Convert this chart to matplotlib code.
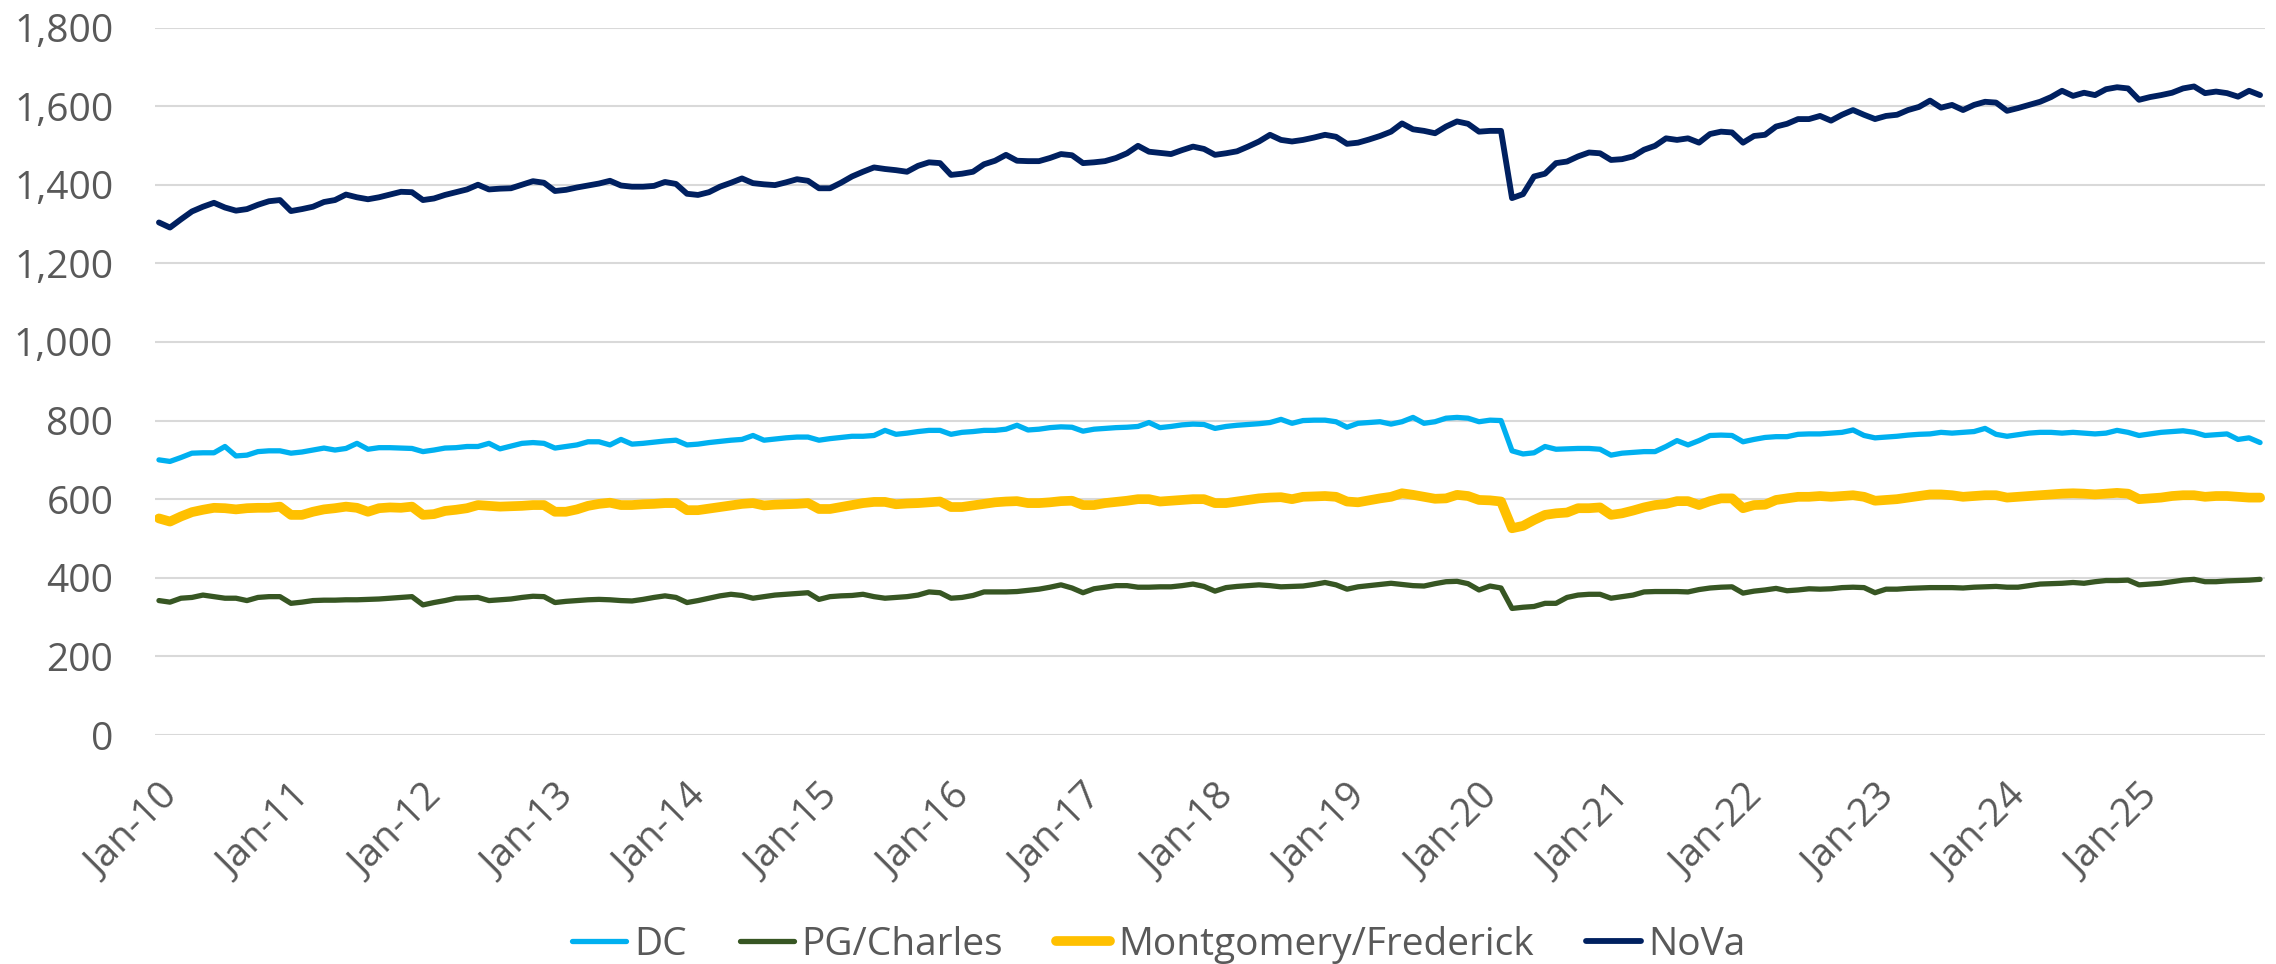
import matplotlib
matplotlib.use("Agg")
import matplotlib.pyplot as plt
import matplotlib.transforms as mtransforms
import numpy as np

# ---------------- data (thousands, monthly Jan-2010 .. Dec-2025) ----------------
series_names = ["DC", "PG/Charles", "Montgomery/Frederick", "NoVa"]
tick_labels = ["Jan-10", "Jan-11", "Jan-12", "Jan-13", "Jan-14", "Jan-15", "Jan-16", "Jan-17",
               "Jan-18", "Jan-19", "Jan-20", "Jan-21", "Jan-22", "Jan-23", "Jan-24", "Jan-25"]

dc = [700, 696, 706, 717, 718, 718, 734, 710, 712, 721, 723, 723,
      717, 720, 725, 730, 725, 729, 742, 727, 731, 731, 730, 729,
      721, 725, 730, 731, 734, 734, 742, 728, 735, 742, 744, 742,
      730, 734, 738, 746, 746, 738, 752, 740, 742, 745, 748, 750,
      738, 740, 744, 747, 750, 752, 762, 750, 753, 756, 758, 758,
      750, 754, 757, 760, 760, 762, 775, 765, 768, 772, 775, 775,
      765, 770, 772, 775, 775, 778, 788, 776, 778, 782, 784, 783,
      773, 778, 780, 782, 783, 785, 795, 782, 785, 789, 791, 790,
      780, 785, 788, 790, 792, 795, 803, 793, 800, 801, 801, 797,
      783, 793, 795, 797, 791, 797, 808, 793, 797, 806, 808, 806,
      797, 801, 800, 723, 715, 718, 734, 727, 728, 729, 729, 727,
      712, 717, 719, 721, 721, 734, 749, 738, 749, 762, 763, 762,
      746, 752, 757, 759, 759, 765, 766, 766, 768, 770, 776, 762,
      756, 758, 760, 763, 765, 766, 770, 768, 770, 772, 780, 765,
      760, 764, 768, 770, 770, 768, 770, 768, 766, 768, 775, 770,
      762, 766, 770, 772, 774, 770, 762, 764, 766, 752, 756, 744]

pg = [342, 338, 348, 350, 356, 352, 348, 348, 342, 350, 352, 352,
      335, 338, 342, 343, 343, 344, 344, 345, 346, 348, 350, 352,
      331, 337, 342, 348, 349, 350, 342, 344, 346, 350, 353, 352,
      337, 340, 342, 344, 345, 344, 342, 341, 345, 350, 354, 350,
      337, 342, 348, 354, 358, 355, 348, 352, 356, 358, 360, 362,
      345, 352, 354, 355, 358, 352, 348, 350, 352, 356, 364, 362,
      348, 350, 355, 364, 364, 364, 365, 368, 371, 376, 382, 374,
      362, 372, 376, 380, 380, 376, 376, 377, 377, 380, 384, 378,
      366, 375, 378, 380, 382, 380, 377, 378, 379, 383, 388, 382,
      371, 377, 380, 383, 386, 383, 380, 379, 385, 390, 391, 385,
      369, 379, 374, 322, 325, 327, 335, 335, 350, 356, 358, 358,
      348, 352, 356, 364, 365, 365, 365, 364, 370, 374, 376, 377,
      361, 366, 369, 373, 367, 369, 372, 371, 372, 375, 376, 375,
      362, 371, 371, 373, 374, 375, 375, 375, 374, 376, 377, 378,
      376, 376, 380, 384, 385, 386, 388, 386, 390, 393, 393, 394,
      382, 384, 386, 390, 394, 396, 390, 390, 392, 393, 394, 396]

mf = [551, 543, 556, 567, 573, 578, 577, 574, 577, 578, 578, 581,
      560, 560, 568, 574, 577, 581, 578, 568, 577, 579, 578, 581,
      560, 562, 570, 573, 577, 585, 583, 581, 582, 583, 585, 585,
      568, 568, 574, 583, 588, 591, 585, 585, 587, 588, 590, 590,
      572, 572, 576, 580, 584, 588, 590, 584, 586, 587, 588, 590,
      575, 575, 580, 585, 590, 593, 593, 587, 589, 590, 592, 594,
      580, 580, 584, 588, 592, 594, 595, 590, 590, 592, 595, 596,
      585, 585, 590, 593, 596, 600, 600, 594, 596, 598, 600, 600,
      590, 590, 594, 598, 602, 604, 605, 600, 606, 607, 608, 606,
      594, 592, 597, 602, 606, 615, 611, 606, 601, 602, 611, 608,
      598, 597, 594, 526, 532, 547, 560, 564, 566, 577, 577, 579,
      560, 564, 571, 579, 585, 588, 595, 595, 585, 595, 602, 602,
      577, 585, 586, 598, 602, 606, 606, 608, 606, 608, 610, 606,
      596, 598, 600, 604, 608, 612, 612, 610, 606, 608, 610, 610,
      604, 606, 608, 610, 612, 614, 615, 614, 612, 614, 616, 614,
      600, 602, 604, 608, 610, 610, 606, 608, 608, 606, 604, 604]

nova = [1304, 1291, 1312, 1332, 1344, 1354, 1342, 1334, 1338, 1349, 1358, 1361,
        1333, 1338, 1344, 1356, 1361, 1375, 1368, 1363, 1368, 1375, 1382, 1381,
        1361, 1365, 1374, 1381, 1388, 1400, 1388, 1390, 1391, 1400, 1409, 1405,
        1384, 1387, 1393, 1398, 1403, 1410, 1398, 1395, 1395, 1397, 1407, 1402,
        1377, 1374, 1381, 1395, 1405, 1416, 1404, 1401, 1399, 1406, 1414, 1410,
        1391, 1391, 1405, 1421, 1433, 1444, 1440, 1437, 1433, 1448, 1457, 1455,
        1425, 1428, 1433, 1452, 1461, 1476, 1461, 1460, 1460, 1468, 1478, 1475,
        1455, 1457, 1460, 1468, 1480, 1499, 1484, 1481, 1478, 1488, 1497, 1491,
        1476, 1480, 1485, 1497, 1510, 1527, 1514, 1510, 1514, 1520, 1527, 1522,
        1504, 1507, 1515, 1524, 1535, 1556, 1541, 1537, 1531, 1548, 1561, 1555,
        1535, 1537, 1537, 1366, 1376, 1421, 1428, 1455, 1459, 1472, 1482, 1480,
        1463, 1465, 1472, 1489, 1499, 1518, 1514, 1518, 1507, 1529, 1535, 1533,
        1507, 1524, 1527, 1548, 1555, 1567, 1567, 1575, 1563, 1578, 1590, 1578,
        1567, 1575, 1578, 1590, 1598, 1614, 1596, 1603, 1590, 1603, 1611, 1609,
        1588, 1595, 1603, 1611, 1623, 1639, 1626, 1634, 1628, 1643, 1648, 1645,
        1616, 1623, 1628, 1634, 1645, 1650, 1633, 1637, 1633, 1624, 1639, 1628]

colors = ["#00B0F0", "#375623", "#FFC000", "#002060"]
widths = [3.8, 3.8, 7.0, 4.2]

# ---------------- figure ----------------
W, H = 2276, 964
fig = plt.figure(figsize=(W / 100, H / 100), dpi=100)
plt.rcParams["font.family"] = ["Open Sans", "DejaVu Sans"]
txt = "#595959"
fs = 28

ax = fig.add_axes([155 / W, 1 - 735 / H, 2110 / W, (735 - 27.5) / H])
x = np.arange(len(nova))
for vals, name, c, lw in zip([dc, pg, mf, nova], series_names, colors, widths):
    ax.plot(x, vals, color=c, lw=lw, label=name, solid_joinstyle="round",
            solid_capstyle="round", zorder=3)

ax.set_xlim(-0.36, 191.45)
ax.set_ylim(0, 1800)
ax.set_yticks(np.arange(0, 1801, 200))
ax.yaxis.set_major_formatter(matplotlib.ticker.FuncFormatter(lambda v, p: f"{int(v):,}"))
ax.grid(axis="y", color="#D9D9D9", lw=1.5, zorder=0)
ax.set_xticks(np.arange(0, len(tick_labels) * 12, 12))
ax.set_xticklabels(tick_labels, rotation=45, ha="right", va="top",
                   rotation_mode="anchor")
shift = mtransforms.ScaledTranslation(6 / 100, 0, fig.dpi_scale_trans)
for lab in ax.get_xticklabels():
    lab.set_transform(lab.get_transform() + shift)
ax.tick_params(axis="y", length=0, pad=30, labelsize=fs, labelcolor=txt)
ax.tick_params(axis="x", length=0, pad=31, labelsize=fs, labelcolor=txt)
for s in ax.spines.values():
    s.set_visible(False)

handles, labels = ax.get_legend_handles_labels()
fig.legend(handles, labels, loc="center", bbox_to_anchor=(1159 / W, 1 - 945 / H),
           ncol=4, frameon=False, fontsize=fs, labelcolor=txt,
           handlelength=1.39, handletextpad=0.2, columnspacing=1.36)

fig.savefig("out.png", dpi=100)
